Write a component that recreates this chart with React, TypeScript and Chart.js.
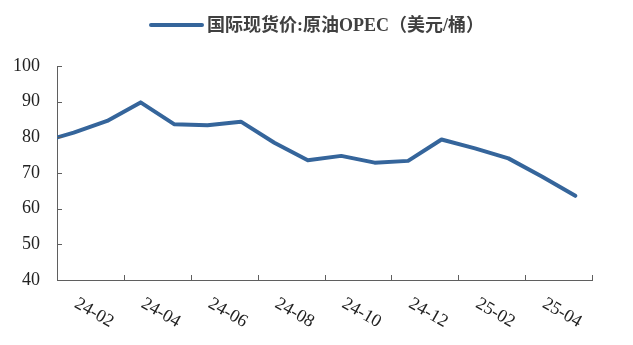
import React, { useEffect, useRef } from 'react';
import { Chart, registerables } from 'chart.js';

Chart.register(...registerables);

const categories = [
  '24-01', '24-02', '24-03', '24-04', '24-05', '24-06', '24-07', '24-08', '24-09',
  '24-10', '24-11', '24-12', '25-01', '25-02', '25-03', '25-04', '25-05',
];
const opecValues = [78.6, 81.3, 84.6, 89.8, 83.7, 83.4, 84.4, 78.5, 73.6, 74.8, 72.9, 73.4, 79.4, 76.9, 74.1, 69.0, 63.6];
const xTickLabels = ['24-02', '24-04', '24-06', '24-08', '24-10', '24-12', '25-02', '25-04'];
const yTickValues = [40, 50, 60, 70, 80, 90, 100];
const seriesName = '国际现货价:原油OPEC（美元/桶）';

const LINE_COLOR = '#35659b';
const AXIS_COLOR = '#5f5f5f';
const TEXT_COLOR = '#222222';

const decorPlugin = {
  id: 'decor',
  afterDraw(chart: any) {
    const { ctx, chartArea } = chart;
    const xs = chart.scales.x;
    const ys = chart.scales.y;
    ctx.save();
    // tick marks (inward)
    ctx.strokeStyle = AXIS_COLOR;
    ctx.lineWidth = 1;
    ctx.beginPath();
    const startIdx = categories.indexOf(xTickLabels[0]);
    for (let k = 0; k <= xTickLabels.length; k++) {
      const px = Math.round(xs.getPixelForValue(startIdx + 2 * k - 0.5)) + 0.5;
      ctx.moveTo(px, chartArea.bottom);
      ctx.lineTo(px, chartArea.bottom - 5);
    }
    yTickValues.forEach((v) => {
      const py = Math.round(ys.getPixelForValue(v)) + 0.5;
      ctx.moveTo(chartArea.left, py);
      ctx.lineTo(chartArea.left + 5, py);
    });
    ctx.stroke();

    // rotated x labels
    ctx.fillStyle = TEXT_COLOR;
    ctx.font = '18px "Liberation Serif", serif';
    ctx.textAlign = 'center';
    ctx.textBaseline = 'middle';
    xTickLabels.forEach((lab) => {
      const i = categories.indexOf(lab);
      const cx = xs.getPixelForValue(i + 0.5) + 3.5;
      const cy = chartArea.bottom + 33;
      ctx.save();
      ctx.translate(cx, cy);
      ctx.rotate((30 * Math.PI) / 180);
      ctx.fillText(lab, 0, 0);
      ctx.restore();
    });

    // legend
    const ds = chart.data.datasets[0];
    ctx.strokeStyle = ds.borderColor;
    ctx.lineWidth = 4;
    ctx.lineCap = 'round';
    ctx.beginPath();
    ctx.moveTo(151, 25);
    ctx.lineTo(202, 25);
    ctx.stroke();
    ctx.fillStyle = '#404040';
    ctx.font = 'bold 18px "Liberation Serif", "Noto Sans CJK SC", serif';
    ctx.textAlign = 'left';
    ctx.textBaseline = 'middle';
    ctx.fillText(ds.label, 207, 26);
    ctx.restore();
  },
};

export default function App() {
  const canvasRef = useRef<HTMLCanvasElement | null>(null);

  useEffect(() => {
    if (!canvasRef.current) return;
    const chart = new Chart(canvasRef.current, {
      type: 'line',
      data: {
        labels: categories,
        datasets: [
          {
            label: seriesName,
            data: opecValues,
            borderColor: LINE_COLOR,
            backgroundColor: LINE_COLOR,
            borderWidth: 4,
            pointRadius: 0,
            tension: 0,
            borderJoinStyle: 'round',
            borderCapStyle: 'round',
            clip: 0,
          } as any,
        ],
      },
      options: {
        animation: false,
        responsive: true,
        maintainAspectRatio: false,
        layout: { padding: { top: 66, right: 41, left: 0, bottom: 0 } },
        plugins: {
          legend: { display: false },
          tooltip: { enabled: false },
        },
        scales: {
          x: {
            type: 'category',
            min: '24-02',
            max: '25-05',
            offset: true,
            grid: { display: false, drawTicks: false },
            border: { display: true, color: AXIS_COLOR, width: 1 },
            ticks: { display: false },
            afterFit: (s: any) => {
              s.height = 65;
            },
          },
          y: {
            min: 40,
            max: 100,
            afterBuildTicks: (s: any) => {
              s.ticks = yTickValues.map((v) => ({ value: v }));
            },
            grid: { display: false, drawTicks: false },
            border: { display: true, color: AXIS_COLOR, width: 1 },
            ticks: {
              font: { family: '"Liberation Serif", serif', size: 18 },
              color: TEXT_COLOR,
              padding: 17,
            },
            afterFit: (s: any) => {
              s.width = 57;
            },
          },
        },
      },
      plugins: [decorPlugin],
    });
    return () => chart.destroy();
  }, []);

  return (
    <div style={{ position: 'fixed', left: 0, top: 0, width: 633, height: 345, background: '#fff' }}>
      <canvas ref={canvasRef} />
    </div>
  );
}
